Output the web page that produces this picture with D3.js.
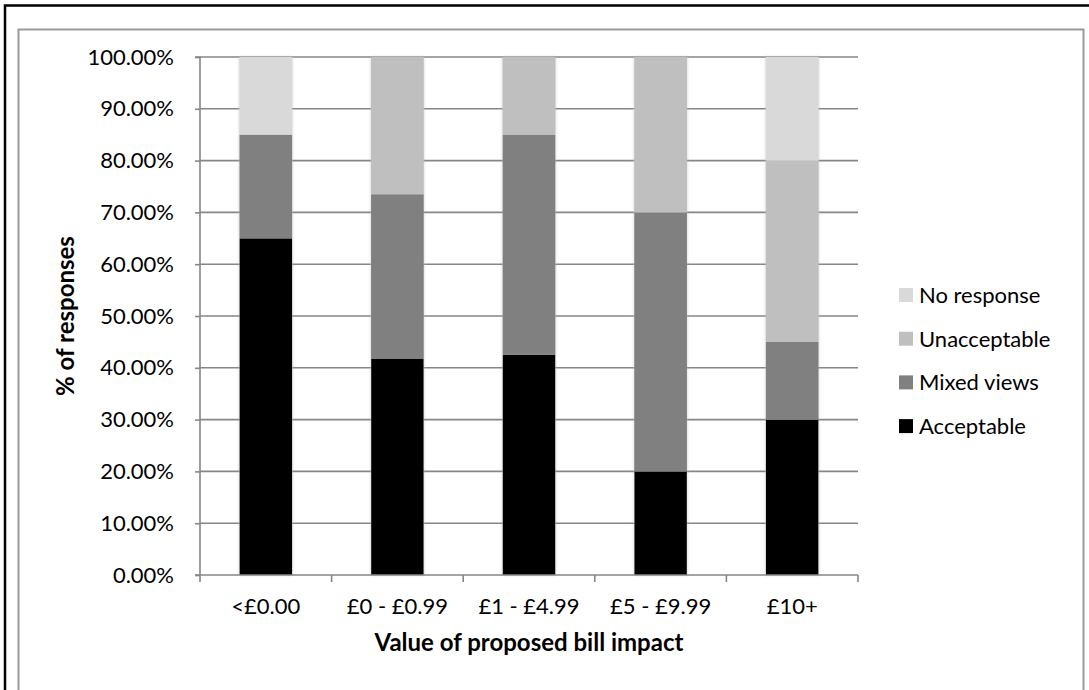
<!DOCTYPE html>
<html><head><meta charset="utf-8">
<script src="https://cdn.jsdelivr.net/npm/d3@7"></script>
<style>
html,body{margin:0;padding:0;background:#fff;}
svg{display:block;font-family:Lato,"Open Sans",sans-serif;}
</style></head>
<body>
<svg id="chart" width="1089" height="690"></svg>
<script>
const categories = ["<£0.00", "£0 - £0.99", "£1 - £4.99", "£5 - £9.99", "£10+"];
const seriesNames = ["Acceptable", "Mixed views", "Unacceptable", "No response"];
const acceptable   = [65.0, 41.7, 42.5, 20.0, 30.0];
const mixedViews   = [20.0, 31.8, 42.5, 50.0, 15.0];
const unacceptable = [0.0, 26.5, 15.0, 30.0, 35.0];
const noResponse   = [15.0, 0.0, 0.0, 0.0, 20.0];
const yTicks = [0, 10, 20, 30, 40, 50, 60, 70, 80, 90, 100];
const colors = ["#000000", "#808080", "#bfbfbf", "#d9d9d9"];

const svg = d3.select("#chart");
const W = 1089, H = 690;

// outer frame and chart area border
svg.append("rect").attr("x", 5).attr("y", 5.5).attr("width", W + 20).attr("height", H + 20)
  .attr("fill", "none").attr("stroke", "#000").attr("stroke-width", 2.5);
svg.append("rect").attr("x", 18.5).attr("y", 29.5).attr("width", 1065).attr("height", H + 20)
  .attr("fill", "none").attr("stroke", "#9a9a9a").attr("stroke-width", 2);

const m = {left: 200, right: 858, top: 57, bottom: 575};
const x = d3.scaleBand().domain(categories).range([m.left, m.right]).paddingInner(0.6).paddingOuter(0.3);
const xb = d3.scaleBand().domain(categories).range([m.left, m.right]);
const y = d3.scaleLinear().domain([0, 100]).range([m.bottom, m.top]);

// gridlines
svg.append("g").selectAll("line").data(yTicks.filter(d => d > 0)).join("line")
  .attr("x1", m.left).attr("x2", m.right)
  .attr("y1", d => y(d)).attr("y2", d => y(d))
  .attr("stroke", "#868686").attr("stroke-width", 1.6);

// shadow filter
const defs = svg.append("defs");
const f = defs.append("filter").attr("id", "sh").attr("x", "-20%").attr("y", "-5%").attr("width", "140%").attr("height", "110%");
f.append("feDropShadow").attr("dx", 0).attr("dy", 0).attr("stdDeviation", 1.6).attr("flood-color", "#bbb").attr("flood-opacity", 0.8);

// stacked data
const rows = categories.map((c, i) => ({cat: c, "Acceptable": acceptable[i], "Mixed views": mixedViews[i], "Unacceptable": unacceptable[i], "No response": noResponse[i]}));
const stack = d3.stack().keys(seriesNames)(rows);

const gBars = svg.append("g").attr("filter", "url(#sh)");
stack.forEach((s, si) => {
  gBars.append("g").attr("fill", colors[si]).selectAll("rect").data(s).join("rect")
    .attr("x", d => x(d.data.cat))
    .attr("width", x.bandwidth())
    .attr("y", d => y(d[1]))
    .attr("height", d => Math.max(0, y(d[0]) - y(d[1])));
});

// y axis
const yAxis = d3.axisLeft(y).tickValues(yTicks).tickSize(5).tickPadding(21)
  .tickFormat(d => d.toFixed(2) + "%");
const ga = svg.append("g").attr("transform", `translate(${m.left},0)`).call(yAxis);
ga.select(".domain").attr("stroke", "#868686").attr("stroke-width", 1.6).attr("d", `M-5,${m.top}H0V${m.bottom}`);
ga.selectAll(".tick line").attr("stroke", "#868686").attr("stroke-width", 1.6);
ga.selectAll(".tick text").attr("font-size", 22).attr("fill", "#000").attr("font-family", "Lato");

// x axis
const gx = svg.append("g").attr("transform", `translate(0,${m.bottom})`);
gx.append("line").attr("x1", m.left - 5).attr("x2", m.right).attr("y1", 0).attr("y2", 0)
  .attr("stroke", "#868686").attr("stroke-width", 1.6);
const bounds = categories.map(c => xb(c)).concat([xb(categories[categories.length-1]) + xb.bandwidth()]);
gx.selectAll("line.tk").data(bounds).join("line").attr("class", "tk")
  .attr("x1", d => d).attr("x2", d => d).attr("y1", 0).attr("y2", 7)
  .attr("stroke", "#868686").attr("stroke-width", 1.6);
gx.selectAll("text").data(categories).join("text")
  .attr("x", d => x(d) + x.bandwidth() / 2).attr("y", 39)
  .attr("text-anchor", "middle").attr("font-size", 22).text(d => d);

// axis titles
svg.append("text").attr("x", 529).attr("y", 651).attr("text-anchor", "middle")
  .attr("font-size", 24).attr("font-weight", "bold").text("Value of proposed bill impact");
svg.append("text").attr("transform", "translate(74,316) rotate(-90)").attr("text-anchor", "middle")
  .attr("font-size", 24).attr("font-weight", "bold").text("% of responses");

// legend
const legendOrder = ["No response", "Unacceptable", "Mixed views", "Acceptable"];
const lg = svg.append("g");
legendOrder.forEach((name, i) => {
  const cy = 295 + i * 43.7;
  lg.append("rect").attr("x", 899).attr("y", cy - 7).attr("width", 14).attr("height", 14)
    .attr("fill", colors[seriesNames.indexOf(name)]);
  lg.append("text").attr("x", 919).attr("y", cy + 8).attr("font-size", 22).text(name);
});
</script>
</body></html>
